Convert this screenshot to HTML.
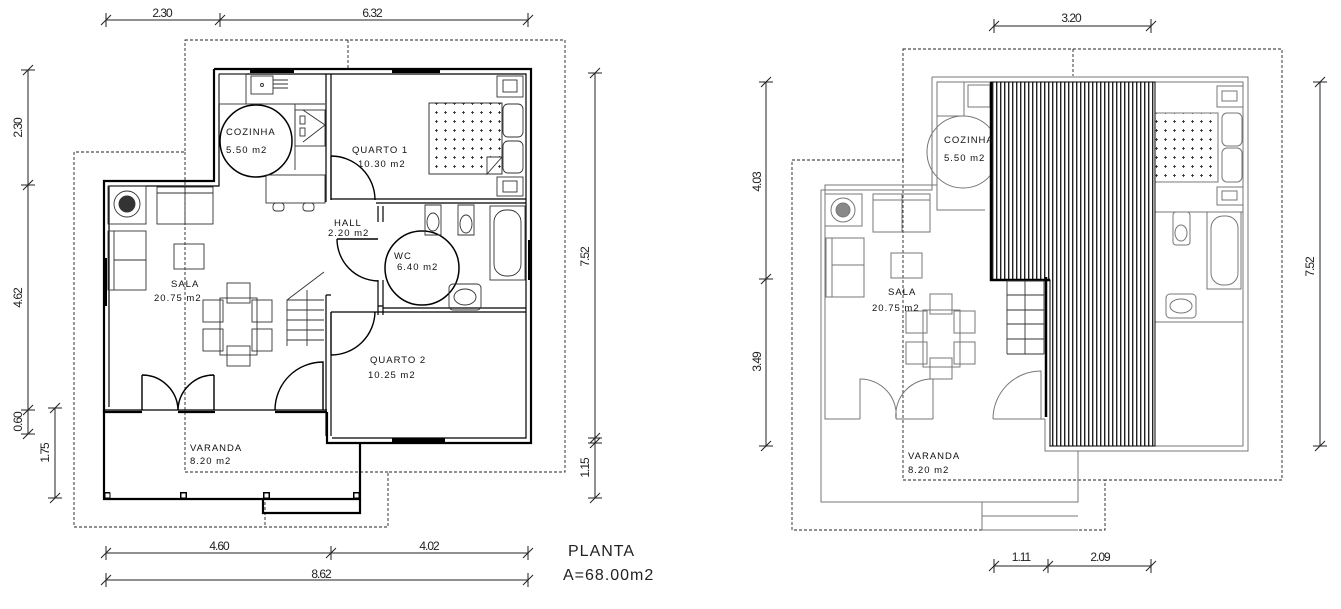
<!DOCTYPE html>
<html><head><meta charset="utf-8"><style>
html,body{margin:0;padding:0;background:#fff;width:1341px;height:609px;overflow:hidden}
svg{display:block}
text{font-family:"Liberation Sans",sans-serif}
.dim{font-size:12px;letter-spacing:-1px;fill:#222}
.lbl{font-size:9.5px;letter-spacing:1px;fill:#111}
</style></head><body>
<svg width="1341" height="609" viewBox="0 0 1341 609" xmlns="http://www.w3.org/2000/svg">
<defs>
<pattern id="hatch" width="4" height="10" patternUnits="userSpaceOnUse">
<rect width="4" height="10" fill="#fff"/><rect x="0" y="0" width="1.4" height="10" fill="#222"/>
</pattern>
<pattern id="cross" width="9" height="9" patternUnits="userSpaceOnUse">
<path d="M3 4.5h3M4.5 3v3" stroke="#222" stroke-width="0.8"/>
</pattern>
</defs>

<!-- ================= LEFT PLAN ================= -->
<g fill="none" stroke="#222" stroke-width="1">
<!-- dims top -->
<path d="M106 20H528 M106 13v14 M220 13v14 M528 13v14 M101 25l10-10 M215 25l10-10 M523 25l10-10"/>
<!-- left dims -->
<path d="M28 70V434 M21 70h14 M21 185h14 M21 410h14 M21 434h14 M23 75l10-10 M23 190l10-10 M23 415l10-10 M23 439l10-10"/>
<path d="M55 408V498 M48 408h14 M48 498h14 M50 413l10-10 M50 503l10-10"/>
<!-- right dims -->
<path d="M595 73V498 M588 73h14 M588 438h14 M588 443h14 M588 498h14 M590 78l10-10 M590 443l10-10 M590 448l10-10 M590 503l10-10"/>
<!-- bottom dims -->
<path d="M106 553H528 M106 546v14 M331 546v14 M528 546v14 M101 558l10-10 M326 558l10-10 M523 558l10-10"/>
<path d="M106 580H528 M106 573v14 M528 573v14 M101 585l10-10 M523 585l10-10"/>
</g>
<g class="dim" text-anchor="middle">
<text x="162" y="17">2.30</text><text x="372" y="17">6.32</text>
<text x="219" y="550">4.60</text><text x="429" y="550">4.02</text><text x="321" y="578">8.62</text>
<text transform="translate(22,128) rotate(-90)">2.30</text>
<text transform="translate(22,298) rotate(-90)">4.62</text>
<text transform="translate(22,422) rotate(-90)">0.60</text>
<text transform="translate(49,453) rotate(-90)">1.75</text>
<text transform="translate(589,257) rotate(-90)">7.52</text>
<text transform="translate(589,468) rotate(-90)">1.15</text>
</g>
<text x="568" y="556" style="font-size:16px;letter-spacing:1px" fill="#222">PLANTA</text>
<text x="563" y="580" style="font-size:16px;letter-spacing:1px" fill="#222">A=68.00m2</text>

<!-- roof dashed -->
<g fill="none" stroke="#222" stroke-width="0.9" stroke-dasharray="3,2">
<path d="M185 40H565V472H388V527H74V152H185Z"/>
<path d="M348 40V68 M185 152V472H388 M265 502V527"/>
</g>

<!-- walls -->
<g fill="none" stroke="#000" stroke-width="2.2">
<path d="M214 69H531V443H327V412 M214 69V181H104V412H142 M178 412H215 M275 412H327"/>
<path d="M104 410V499H360V443"/>
<path d="M263 499V513H360V499"/>
</g>
<g fill="none" stroke="#000" stroke-width="1.2">
<path d="M219 74H526V438H332 M219 74V186H109V407"/>
<!-- interior walls -->
<path d="M326 74V202 M331 74V156 M331 199H526 M376 203H526"/>
<path d="M378 206V222 M383 206V222 M378 280V315 M383 280V315"/>
<path d="M383 308H526 M331 312H526 M378 306H383"/>
<path d="M326 295V436 M331 355V436 M326 295H331"/>
<path d="M104 410H327"/>
</g>
<!-- windows -->
<g fill="#000">
<rect x="250" y="68" width="44" height="5"/><rect x="392" y="68" width="48" height="5"/>
<rect x="103" y="258" width="4" height="48"/><rect x="528" y="240" width="4" height="40"/>
<rect x="392" y="438" width="53" height="5"/>
<rect x="103" y="492" width="7" height="7"/><rect x="180" y="492" width="7" height="7"/><rect x="263" y="492" width="7" height="7"/><rect x="353" y="492" width="7" height="7"/>
</g>
<g fill="#fff" stroke="#000" stroke-width="1"><rect x="105" y="493" width="5" height="5"/><rect x="181" y="493" width="5" height="5"/><rect x="264" y="493" width="5" height="5"/><rect x="354" y="493" width="5" height="5"/></g>
<!-- doors -->
<g fill="none" stroke="#000" stroke-width="1.4">
<path d="M331 156V200 M331 156A44 44 0 0 1 375 200"/>
<path d="M337 239H378 M337 239A42 42 0 0 0 378 281"/>
<path d="M331 312V355 M331 355A44 44 0 0 0 375 312"/>
<path d="M142 410V375 M142 375A36 36 0 0 1 178 410 M214 410V375 M214 375A36 36 0 0 0 178 410"/>
<path d="M275 410A48 48 0 0 1 323 362V410"/>
</g>
<!-- circles -->
<g fill="none" stroke="#000" stroke-width="1.5">
<circle cx="256" cy="141" r="36"/><circle cx="422" cy="268" r="37"/>
</g>
<!-- furniture left -->
<g fill="none" stroke="#333" stroke-width="0.9">
<rect x="219" y="74" width="27" height="30"/><rect x="251" y="76" width="22" height="18"/><circle cx="262" cy="85" r="1.5"/>
<path d="M273 80h15M273 84h15M273 88h15"/>
<path d="M246 104H295V170 M295 104H325"/>
<rect x="295" y="110" width="30" height="36"/><path d="M303 110L325 125 303 142"/><rect x="300" y="116" width="5" height="8"/><rect x="300" y="128" width="5" height="8"/>
<rect x="266" y="175" width="59" height="28"/><rect x="273" y="203" width="11" height="8" rx="3"/><rect x="303" y="203" width="11" height="8" rx="3"/>
<rect x="429" y="103" width="73" height="71"/><rect x="429" y="103" width="73" height="71" fill="url(#cross)"/>
<path d="M502 157L487 174 487 157Z" fill="#fff"/>
<rect x="497" y="76" width="26" height="21"/><rect x="503" y="80" width="14" height="12"/>
<rect x="497" y="177" width="26" height="19"/><rect x="503" y="181" width="14" height="11"/>
<rect x="503" y="104" width="20" height="33" rx="5"/><rect x="503" y="141" width="20" height="32" rx="5"/>
<rect x="108" y="186" width="38" height="38"/><circle cx="127" cy="204" r="13"/><circle cx="127" cy="204" r="8" fill="#333"/>
<rect x="157" y="187" width="56" height="37"/><path d="M157 193H213M185 187V224"/>
<rect x="108" y="231" width="38" height="59"/><path d="M114 231V290M114 260H146"/>
<rect x="174" y="244" width="30" height="25"/>
<rect x="220" y="298" width="37" height="57"/>
<rect x="227" y="283" width="23" height="20"/><rect x="227" y="346" width="23" height="20"/>
<rect x="203" y="300" width="20" height="22"/><rect x="203" y="329" width="20" height="22"/>
<rect x="252" y="300" width="20" height="22"/><rect x="252" y="329" width="20" height="22"/>
<path d="M287 346V300L324 272 M287 300H324 M287 310H324 M287 320H324 M287 330H324 M287 340H324 M307 290V346"/>
<rect x="490" y="206" width="35" height="74"/><rect x="494" y="210" width="27" height="66" rx="12"/>
<path d="M425 205h16v30h-16z M458 205h16v30h-16z"/><ellipse cx="433" cy="222" rx="6" ry="9"/><ellipse cx="466" cy="224" rx="6" ry="9"/>
<rect x="449" y="284" width="32" height="26" rx="4"/><ellipse cx="465" cy="297" rx="11" ry="8"/>
</g>
<!-- labels left -->
<g class="lbl">
<text x="226" y="135">COZINHA</text><text x="226" y="153">5.50 m2</text>
<text x="352" y="153">QUARTO 1</text><text x="358" y="167">10.30 m2</text>
<text x="334" y="226">HALL</text><text x="328" y="236">2.20 m2</text>
<text x="394" y="259">WC</text><text x="397" y="270">6.40 m2</text>
<text x="171" y="287">SALA</text><text x="154" y="301">20.75 m2</text>
<text x="370" y="363">QUARTO 2</text><text x="368" y="378">10.25 m2</text>
<text x="190" y="451">VARANDA</text><text x="190" y="464">8.20 m2</text>
</g>

<!-- ================= RIGHT PLAN ================= -->
<g fill="none" stroke="#222" stroke-width="1">
<path d="M994 26H1151 M994 19v14 M1151 19v14 M989 31l10-10 M1146 31l10-10"/>
<path d="M766 82V446 M759 82h14 M759 279h14 M759 446h14 M761 87l10-10 M761 284l10-10 M761 451l10-10"/>
<path d="M1320 82V446 M1313 82h14 M1313 446h14 M1315 87l10-10 M1315 451l10-10"/>
<path d="M994 566H1151 M994 559v14 M1048 559v14 M1151 559v14 M989 571l10-10 M1043 571l10-10 M1146 571l10-10"/>
</g>
<g class="dim" text-anchor="middle">
<text x="1071" y="22">3.20</text><text x="1021" y="561">1.11</text><text x="1100" y="561">2.09</text>
<text transform="translate(761,182) rotate(-90)">4.03</text>
<text transform="translate(761,362) rotate(-90)">3.49</text>
<text transform="translate(1314,267) rotate(-90)">7.52</text>
</g>
<g fill="none" stroke="#222" stroke-width="0.9" stroke-dasharray="3,2">
<path d="M903 49H1282V480H1105V530H792V160H903Z"/>
<path d="M1073 49V76 M903 160V480H1105"/>
</g>
<g fill="none" stroke="#777" stroke-width="1">
<path d="M932 77H1248V451H1045V419 M932 77V190H821V502H1078V451"/>
<path d="M937 82H1243V446H1049 M937 82V210H985 M937 185H825V419H860 M896 419H933 M993 419H1045"/>
<path d="M982 502V530H1078 M982 516H1078"/>
<path d="M1155 212H1243 M1155 322H1243 M1155 212V322"/>
<path d="M860 419V379A36 36 0 0 1 896 419 M933 419V379A36 36 0 0 0 896 419 M993 419A48 48 0 0 1 1041 371V419"/>
<circle cx="963" cy="152" r="36"/>
<rect x="937" y="82" width="27" height="34"/><rect x="968" y="85" width="22" height="22"/>
<rect x="825" y="194" width="37" height="32"/><circle cx="843" cy="210" r="12"/><circle cx="843" cy="210" r="7" fill="#888"/>
<rect x="873" y="194" width="57" height="38"/><path d="M873 200H930M902 194V232"/>
<rect x="826" y="238" width="38" height="59"/><path d="M832 238V297M832 265H864"/>
<rect x="891" y="253" width="31" height="25"/>
<rect x="923" y="310" width="37" height="57"/>
<rect x="930" y="294" width="22" height="20"/><rect x="930" y="358" width="22" height="21"/>
<rect x="906" y="311" width="21" height="22"/><rect x="906" y="342" width="21" height="22"/>
<rect x="954" y="311" width="21" height="22"/><rect x="954" y="342" width="21" height="22"/>
<rect x="1155" y="113" width="63" height="69" fill="url(#cross)"/>
<rect x="1217" y="86" width="26" height="21"/><rect x="1222" y="91" width="15" height="10"/>
<rect x="1217" y="187" width="26" height="18"/><rect x="1222" y="191" width="15" height="9"/>
<rect x="1222" y="113" width="20" height="33" rx="5"/><rect x="1222" y="148" width="20" height="34" rx="5"/>
<rect x="1207" y="212" width="34" height="77"/><rect x="1211" y="216" width="27" height="69" rx="12"/>
<rect x="1173" y="212" width="17" height="33" rx="3"/><ellipse cx="1181" cy="233" rx="6" ry="8"/>
<rect x="1166" y="294" width="30" height="24" rx="4"/><ellipse cx="1181" cy="306" rx="11" ry="7"/>
</g>
<!-- hatched void -->
<path d="M991 82H1155V446H1050V280H991Z" fill="url(#hatch)" stroke="#000" stroke-width="1"/>
<path d="M991 82V280H1050 M1046 277V417" fill="none" stroke="#000" stroke-width="2.5"/>
<g fill="none" stroke="#333" stroke-width="0.9">
<path d="M1007 354V281 M1007 281H1044 M1007 295H1044 M1007 310H1044 M1007 324H1044 M1007 339H1044 M1007 354H1044 M1025 281V354 M1044 281V354"/>
</g>
<g class="lbl">
<text x="944" y="143">COZINHA</text><text x="944" y="161">5.50 m2</text>
<text x="888" y="295">SALA</text><text x="872" y="311">20.75 m2</text>
<text x="908" y="459">VARANDA</text><text x="908" y="473">8.20 m2</text>
</g>
</svg>
</body></html>
